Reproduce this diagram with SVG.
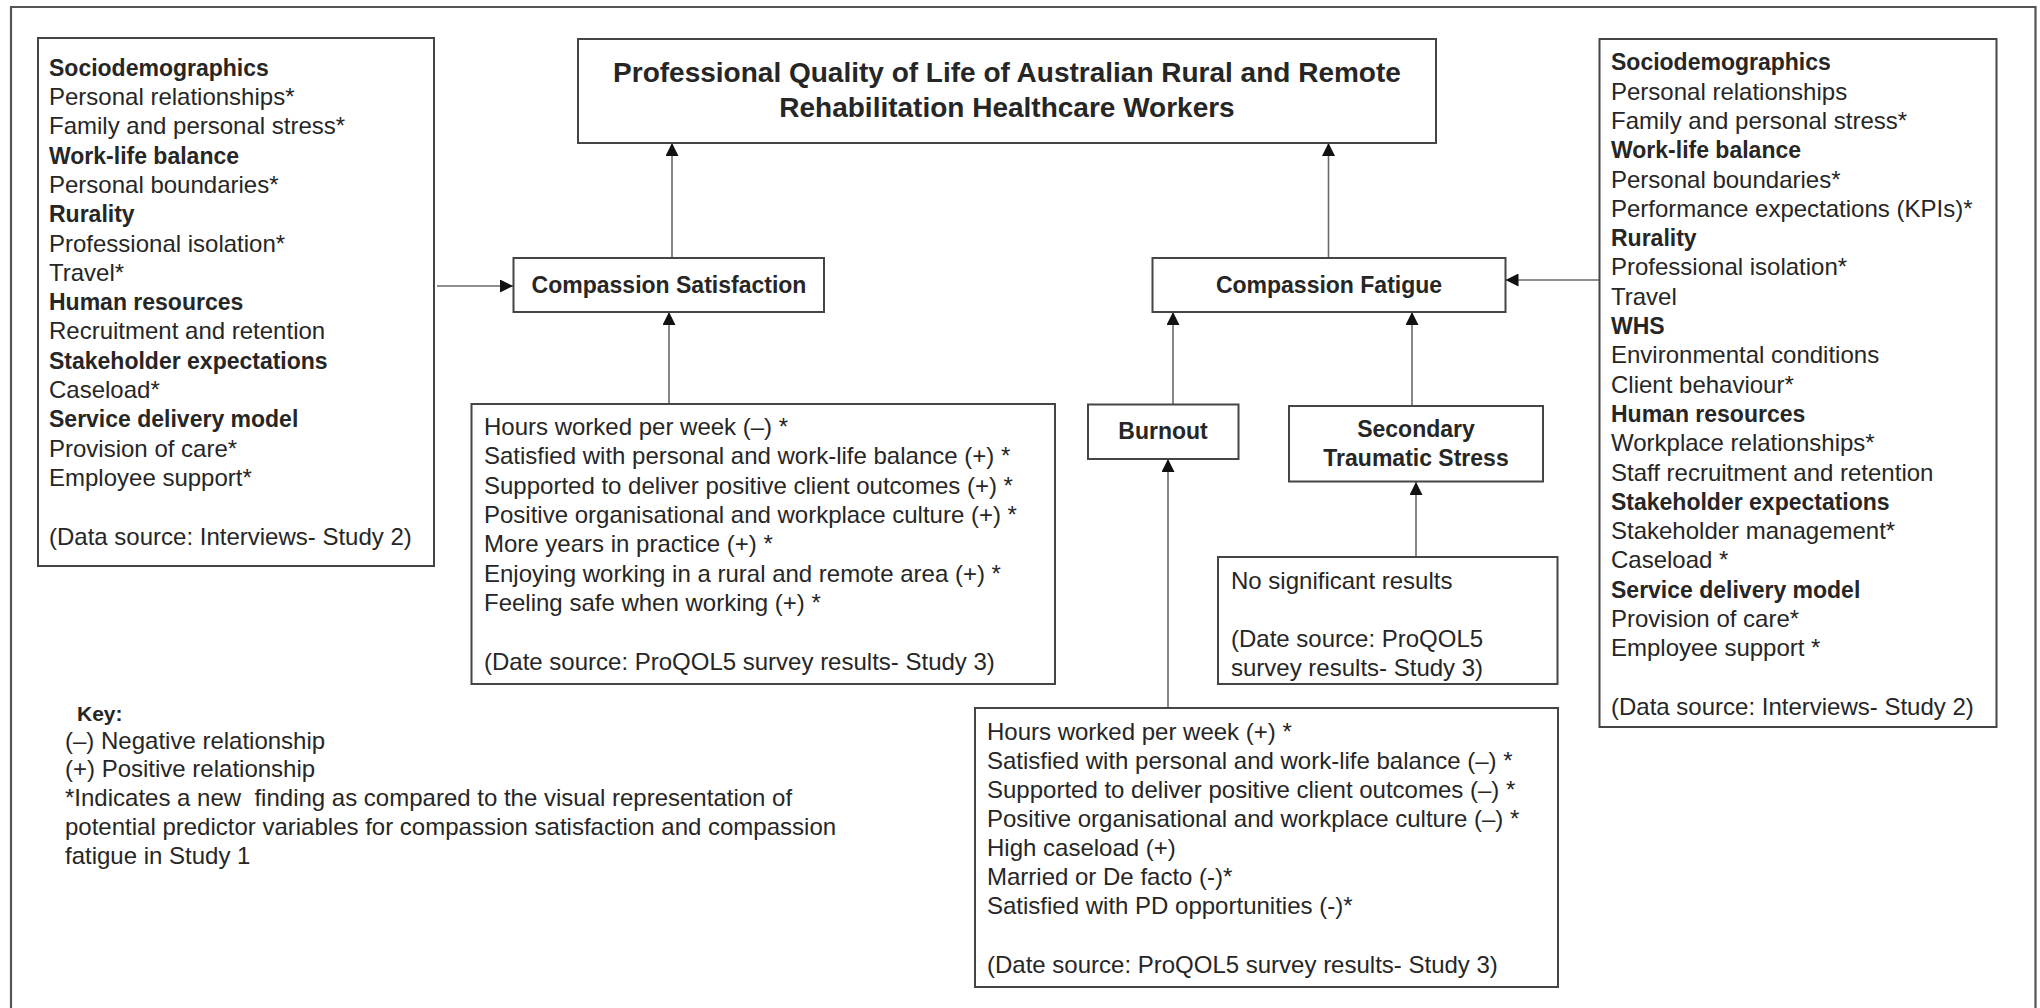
<svg xmlns="http://www.w3.org/2000/svg" width="2040" height="1008" viewBox="0 0 2040 1008">
<defs>
<style>
text{font-family:"Liberation Sans",Arial,sans-serif;fill:#262626;font-size:24px}
.b{font-weight:bold;font-size:23px}
.t{font-weight:bold;font-size:28px}
.k{font-weight:bold;font-size:21px}
.c{text-anchor:middle}
.box{fill:#fff;stroke:#454545;stroke-width:2}
.con{stroke:#6a6a6a;stroke-width:1.6;fill:none;marker-end:url(#ah)}
</style>
<marker id="ah" markerUnits="userSpaceOnUse" markerWidth="14" markerHeight="13" refX="13" refY="6.5" orient="auto">
<path d="M0,0 L13,6.5 L0,13 z" fill="#111"/>
</marker>
</defs>
<rect width="2040" height="1008" fill="#fff"/>
<path d="M11,1012 V7 H2035.5 V1012" fill="none" stroke="#555" stroke-width="2.2"/>

<g id="connectors">
<line class="con" x1="437" y1="286" x2="513" y2="286"/>
<line class="con" x1="672" y1="258" x2="672" y2="143"/>
<line class="con" x1="1328.5" y1="258" x2="1328.5" y2="143"/>
<line class="con" x1="669" y1="404" x2="669" y2="312"/>
<line class="con" x1="1173" y1="404" x2="1173" y2="312"/>
<line class="con" x1="1412" y1="406" x2="1412" y2="312"/>
<line class="con" x1="1168" y1="708" x2="1168" y2="459"/>
<line class="con" x1="1416" y1="557" x2="1416" y2="482"/>
<line class="con" x1="1599" y1="280" x2="1505.5" y2="280"/>
</g>

<g id="title">
<rect class="box" x="578" y="39" width="858" height="104"/>
<text class="t c" x="1007" y="82">Professional Quality of Life of Australian Rural and Remote</text>
<text class="t c" x="1007" y="117">Rehabilitation Healthcare Workers</text>
</g>

<g id="left-factors">
<rect class="box" x="38" y="38" width="396" height="528"/>
<text class="b" x="49" y="75.7">Sociodemographics</text>
<text x="49" y="105">Personal relationships*</text>
<text x="49" y="134.3">Family and personal stress*</text>
<text class="b" x="49" y="163.6">Work-life balance</text>
<text x="49" y="192.9">Personal boundaries*</text>
<text class="b" x="49" y="222.2">Rurality</text>
<text x="49" y="251.5">Professional isolation*</text>
<text x="49" y="280.8">Travel*</text>
<text class="b" x="49" y="310.1">Human resources</text>
<text x="49" y="339.4">Recruitment and retention</text>
<text class="b" x="49" y="368.7">Stakeholder expectations</text>
<text x="49" y="398">Caseload*</text>
<text class="b" x="49" y="427.3">Service delivery model</text>
<text x="49" y="456.6">Provision of care*</text>
<text x="49" y="485.9">Employee support*</text>
<text x="49" y="544.5">(Data source: Interviews- Study 2)</text>
</g>

<g id="compassion-satisfaction">
<rect class="box" x="513.5" y="258" width="310.5" height="54"/>
<text class="b c" x="669" y="292.5">Compassion Satisfaction</text>
</g>

<g id="compassion-fatigue">
<rect class="box" x="1152.5" y="258" width="353" height="54"/>
<text class="b c" x="1329" y="292.5">Compassion Fatigue</text>
</g>

<g id="right-factors">
<rect class="box" x="1599.5" y="39" width="397" height="688"/>
<text class="b" x="1611" y="70.3">Sociodemographics</text>
<text x="1611" y="99.6">Personal relationships</text>
<text x="1611" y="128.9">Family and personal stress*</text>
<text class="b" x="1611" y="158.2">Work-life balance</text>
<text x="1611" y="187.5">Personal boundaries*</text>
<text x="1611" y="216.8">Performance expectations (KPIs)*</text>
<text class="b" x="1611" y="246.1">Rurality</text>
<text x="1611" y="275.4">Professional isolation*</text>
<text x="1611" y="304.7">Travel</text>
<text class="b" x="1611" y="334">WHS</text>
<text x="1611" y="363.3">Environmental conditions</text>
<text x="1611" y="392.6">Client behaviour*</text>
<text class="b" x="1611" y="421.9">Human resources</text>
<text x="1611" y="451.2">Workplace relationships*</text>
<text x="1611" y="480.5">Staff recruitment and retention</text>
<text class="b" x="1611" y="509.8">Stakeholder expectations</text>
<text x="1611" y="539.1">Stakeholder management*</text>
<text x="1611" y="568.4">Caseload *</text>
<text class="b" x="1611" y="597.7">Service delivery model</text>
<text x="1611" y="627">Provision of care*</text>
<text x="1611" y="656.3">Employee support *</text>
<text x="1611" y="715">(Data source: Interviews- Study 2)</text>
</g>

<g id="cs-predictors">
<rect class="box" x="471.5" y="404" width="583.5" height="280"/>
<text x="484" y="435">Hours worked per week (–) *</text>
<text x="484" y="464.3">Satisfied with personal and work-life balance (+) *</text>
<text x="484" y="493.6">Supported to deliver positive client outcomes (+) *</text>
<text x="484" y="522.9">Positive organisational and workplace culture (+) *</text>
<text x="484" y="552.2">More years in practice (+) *</text>
<text x="484" y="581.5">Enjoying working in a rural and remote area (+) *</text>
<text x="484" y="610.8">Feeling safe when working (+) *</text>
<text x="484" y="670">(Date source: ProQOL5 survey results- Study 3)</text>
</g>

<g id="burnout">
<rect class="box" x="1088" y="404.5" width="150.5" height="54.5"/>
<text class="b c" x="1163" y="439">Burnout</text>
</g>

<g id="secondary-traumatic-stress">
<rect class="box" x="1289" y="406" width="254" height="75.5"/>
<text class="b c" x="1416" y="437">Secondary</text>
<text class="b c" x="1416" y="465.5">Traumatic Stress</text>
</g>

<g id="sts-predictors">
<rect class="box" x="1218" y="557" width="339.5" height="127"/>
<text x="1231" y="588.5">No significant results</text>
<text x="1231" y="647">(Date source: ProQOL5</text>
<text x="1231" y="675.5">survey results- Study 3)</text>
</g>

<g id="burnout-predictors">
<rect class="box" x="975" y="708" width="583" height="279"/>
<text x="987" y="740">Hours worked per week (+) *</text>
<text x="987" y="769">Satisfied with personal and work-life balance (–) *</text>
<text x="987" y="798">Supported to deliver positive client outcomes (–) *</text>
<text x="987" y="827">Positive organisational and workplace culture (–) *</text>
<text x="987" y="856">High caseload (+)</text>
<text x="987" y="885">Married or De facto (-)*</text>
<text x="987" y="914">Satisfied with PD opportunities (-)*</text>
<text x="987" y="973">(Date source: ProQOL5 survey results- Study 3)</text>
</g>

<g id="key">
<text class="k" x="77" y="721">Key:</text>
<text x="65" y="748.5">(–) Negative relationship</text>
<text x="65" y="777">(+) Positive relationship</text>
<text x="65" y="806" xml:space="preserve">*Indicates a new  finding as compared to the visual representation of</text>
<text x="65" y="835">potential predictor variables for compassion satisfaction and compassion</text>
<text x="65" y="863.5">fatigue in Study 1</text>
</g>
</svg>
